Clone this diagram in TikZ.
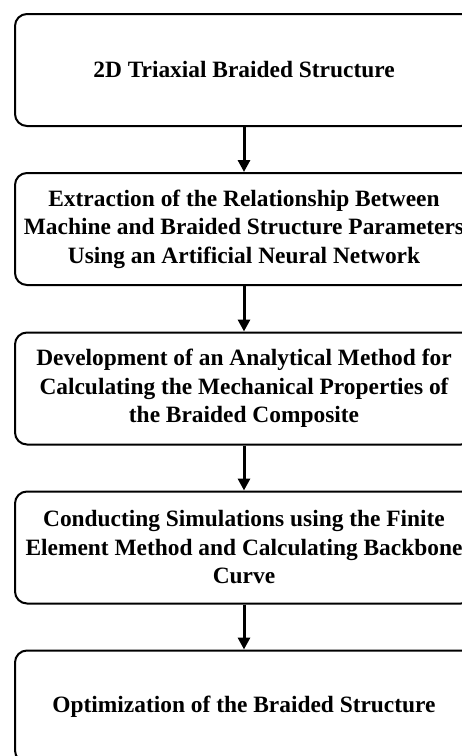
\documentclass[tikz,border=0pt]{standalone}
\usepackage{fontspec}
\setmainfont{Liberation Serif}
\usetikzlibrary{arrows.meta}
\begin{document}
\begin{tikzpicture}[x=1pt,y=-1pt,
  stepbox/.style={draw, line width=2pt, rounded corners=12pt,
    minimum width=458pt, minimum height=112pt, align=center,
    font=\fontsize{23.4}{28.5}\selectfont\bfseries, inner sep=0pt},
  flow/.style={line width=3pt, -{Triangle[length=12pt,width=12pt]}}]
\useasboundingbox (0,0) rectangle (462,756);
\clip (0,0) rectangle (462,756);
\node[stepbox] (b1) at (244,70) {2D Triaxial Braided Structure};
\node[stepbox] (b2) at (244,229) {Extraction of the Relationship Between\\Machine and Braided Structure Parameters\\Using an Artificial Neural Network};
\node[stepbox] (b3) at (244,388.5) {Development of an Analytical Method for\\Calculating the Mechanical Properties of\\the Braided Composite};
\node[stepbox] (b4) at (244,547.5) {Conducting Simulations using the Finite\\Element Method and Calculating Backbone\\Curve};
\node[stepbox] (b5) at (244,706.5) {Optimization of the Braided Structure};
\draw[flow] (b1.south) -- (b2.north);
\draw[flow] (b2.south) -- (b3.north);
\draw[flow] (b3.south) -- (b4.north);
\draw[flow] (b4.south) -- (b5.north);
\end{tikzpicture}
\end{document}
